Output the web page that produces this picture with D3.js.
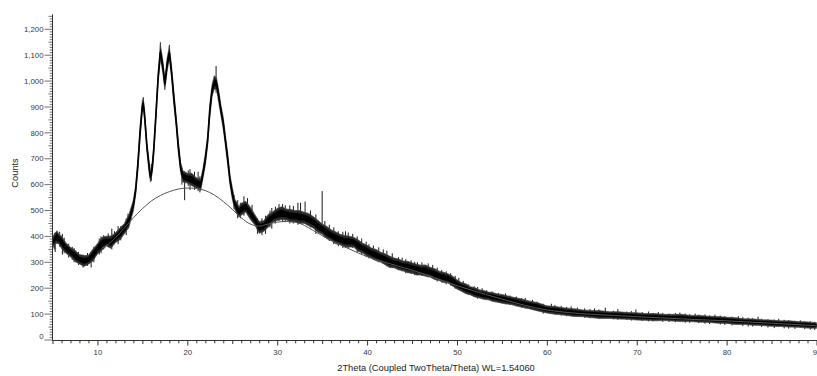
<!DOCTYPE html>
<html>
<head>
<meta charset="utf-8">
<script src="https://cdn.jsdelivr.net/npm/d3@7"></script>
<style>
  html, body { margin: 0; padding: 0; background: #fff; }
  svg { display: block; font-family: "Liberation Sans", Arial, sans-serif; }
</style>
</head>
<body>
<svg id="chart" width="817" height="376"></svg>
<script>
// ---- data ----
const twoTheta = [5.0,5.25,5.5,5.75,6.0,6.5,7.0,7.5,8.0,8.5,9.0,9.5,10.0,10.5,11.0,11.5,12.0,12.5,13.0,13.5,14.0,14.25,14.5,14.75,15.0,15.1,15.25,15.5,15.75,15.9,16.1,16.25,16.5,16.75,17.0,17.25,17.5,17.75,18.0,18.25,18.5,18.75,19.0,19.25,19.5,20.0,20.5,21.0,21.5,21.75,22.0,22.25,22.5,22.75,23.0,23.25,23.5,23.75,24.0,24.25,24.5,24.75,25.0,25.25,25.5,25.75,26.0,26.5,27.0,27.5,28.0,28.5,29.0,29.5,30.0,30.5,31.0,31.5,32.0,32.5,33.0,33.5,34.0,34.5,35.0,35.5,36.0,36.5,37.0,37.5,38.0,38.5,39.0,39.5,40.0,40.5,41.0,41.5,42.0,42.5,43.0,43.5,44.0,44.5,45.0,45.5,46.0,46.5,47.0,47.5,48.0,48.5,49.0,49.5,50.0,50.5,51.0,51.5,52.0,52.5,53.0,53.5,54.0,54.5,55.0,56.0,57.0,58.0,59.0,60.0,61.0,62.0,63.0,64.0,65.0,66.0,67.0,68.0,69.0,70.0,71.0,72.0,73.0,74.0,75.0,76.0,77.0,78.0,79.0,80.0,81.0,82.0,83.0,84.0,85.0,86.0,87.0,88.0,89.0,90.0];
const counts = [375,390,398,388,378,355,340,325,312,305,310,328,352,372,382,378,395,410,430,460,520,578,677,805,905,915,865,748,668,628,666,727,865,1013,1112,1063,988,1063,1110,1033,935,847,747,667,632,625,620,607,600,645,697,767,885,963,995,990,940,885,837,767,697,617,567,527,510,495,505,515,490,465,435,440,460,475,485,490,485,480,478,475,472,465,455,440,428,415,405,395,388,382,380,378,365,355,345,335,328,320,312,302,298,292,286,282,278,272,270,268,262,255,248,242,238,228,215,205,198,190,184,178,174,170,166,162,159,152,144,136,128,118,114,110,106,103,100,98,96,95,93,91,89,88,87,86,85,83,82,80,78,76,73,71,69,67,65,63,62,60,58,56];
const spread = [22,20,24,18,24,20,18,22,18,21,17,23,20,25,19,24,19,23,20,25,21,19,23,24,20,18,21,19,23,18,21,20,24,22,28,24,22,26,24,23,26,21,23,20,22,19,24,20,22,19,23,20,26,23,26,22,24,20,23,21,24,20,23,19,22,20,23,21,24,20,23,21,25,20,23,25,21,24,22,25,21,24,22,23,20,24,21,23,20,22,21,19,22,19,21,20,22,19,21,22,19,21,19,22,20,21,19,22,19,21,18,20,18,19,18,17,19,16,18,16,17,15,17,16,17,15,16,15,16,14,15,14,15,13,14,15,13,14,13,14,13,14,12,13,14,12,13,12,13,12,13,11,12,11,12,11,12,11,12,11];

// thin strands sticking out of the noise band (position, bottom, top)
const spikeX    = [5.2,5.3,5.8,6.1,6.3,6.8,7.2,7.4,7.9,8.4,8.9,9.3,9.6,10.2,10.4,10.7,11.2,11.6,11.9,12.3,12.6,13.2,13.4,15.1,16.0,17.0,18.0,19.4,19.7,20.1,20.3,20.8,21.2,21.4,23.2,25.2,25.6,25.9,26.3,26.7,27.2,27.8,28.3,28.7,29.2,29.4,29.8,30.2,30.6,30.9,31.4,31.8,32.3,32.6,33.1,33.7,34.3,35.0,35.3,35.8,36.3,36.8,37.3,37.6,37.9,38.4,38.9,39.4,39.9,40.2,40.7,41.3,41.8,42.2,42.8,43.5,43.9,44.3,44.9,45.3,45.6,46.1,46.8,47.3,47.8,48.3,48.8,49.3,49.8,50.2,50.7,51.3,51.9,52.3,52.8,53.3,53.9,54.6,55.4,55.9,56.6,57.2,57.6,58.4,58.9,59.6,60.5,60.9,61.6,62.2,62.7,63.4,64.2,64.8,65.3,65.8,66.5,67.4,67.9,68.6,68.9,69.4,69.9,70.6,71.3,71.8,72.4,72.9,73.6,74.3,74.8,75.4,75.9,76.5,76.9,77.6,78.1,78.7,79.3,79.8,80.6,81.3,81.8,82.4,82.9,83.5,83.9,84.6,85.3,85.8,86.4,86.9,87.6,88.2,88.7,89.3,89.8];
const spikeLow  = [350,340,360,330,335,318,310,300,290,280,286,280,300,330,335,350,360,350,372,370,385,405,430,885,615,1085,1085,600,540,595,580,580,575,570,955,505,470,470,480,485,462,410,405,410,435,430,450,460,455,455,450,450,445,450,450,435,410,420,395,382,370,362,355,355,352,355,340,330,320,315,310,300,295,285,278,270,265,258,255,250,250,248,242,240,226,222,215,210,198,195,185,175,166,160,158,155,150,145,138,135,130,125,122,118,112,102,102,98,95,92,94,90,86,84,88,82,86,80,78,82,77,75,80,74,72,72,76,70,70,69,72,67,66,70,65,63,62,67,60,58,56,62,54,52,52,58,50,48,46,52,45,44,43,48,42,40,39];
const spikeHigh = [412,415,418,410,395,372,360,355,340,330,336,340,360,392,400,405,412,430,420,440,440,470,488,938,680,1150,1140,665,650,655,660,650,650,632,1058,560,540,530,555,548,522,470,470,480,500,510,515,525,525,520,520,518,530,530,535,500,485,575,460,445,435,420,418,420,415,410,400,392,380,370,365,358,350,345,335,320,318,312,308,302,300,300,296,290,280,270,265,258,248,240,228,215,208,205,200,192,188,182,180,172,168,162,162,155,148,140,140,135,132,128,130,125,122,120,122,118,125,113,120,104,110,112,118,108,110,104,108,105,102,104,106,102,100,102,98,99,95,98,94,92,90,92,88,86,84,90,82,80,79,82,78,76,74,76,72,72,70];

// smooth amorphous fit curve
const fitX      = [10.5,11,12,13,14,15,16,17,18,19,20,21,22,23,24,25,26,27,28,29,30,31,32,33,34,35,36,38,40,42,45,50,55,60,70,80,90];
const fitCounts = [355,365,395,433,472,507,537,558,573,583,587,585,577,560,535,505,472,448,440,448,455,458,455,443,423,403,385,352,322,300,270,210,158,116,90,74,55];

const xMajorTicks = [10,20,30,40,50,60,70,80,90];
const yMajorTicks = [0,100,200,300,400,500,600,700,800,900,1000,1100,1200];

const xTitle = "2Theta (Coupled TwoTheta/Theta) WL=1.54060";
const yTitle = "Counts";

// ---- drawing ----
const svg = d3.select("#chart");
const x = d3.scaleLinear().domain([5, 90]).range([52.5, 816.5]);
const y = d3.scaleLinear().domain([0, 1200]).range([340, 29.3]);
const yTop = 1258;

const rows = twoTheta.map((t, i) => ({ t, c: counts[i], s: spread[i] }));

const plot = svg.append("g");

// strands (behind band, so only their tips show)
plot.selectAll("line.spike")
  .data(spikeX.map((t, i) => ({ t, lo: spikeLow[i], hi: spikeHigh[i] })))
  .join("line")
  .attr("class", "spike")
  .attr("x1", d => x(d.t)).attr("x2", d => x(d.t))
  .attr("y1", d => y(d.lo)).attr("y2", d => y(d.hi))
  .attr("stroke", "#1a1a1a")
  .attr("stroke-width", 1);

// outer fuzzy band
plot.append("path")
  .datum(rows)
  .attr("d", d3.area().x(d => x(d.t)).y0(d => y(d.c - d.s)).y1(d => y(d.c + d.s)))
  .attr("fill", "#2a2a2a")
  .attr("stroke", "#444")
  .attr("stroke-width", 0.7);

// dense core
plot.append("path")
  .datum(rows)
  .attr("d", d3.area().x(d => x(d.t)).y0(d => y(d.c - d.s * 0.55)).y1(d => y(d.c + d.s * 0.55)))
  .attr("fill", "#000");

// centre line (keeps steep flanks solid)
plot.append("path")
  .datum(rows)
  .attr("d", d3.line().x(d => x(d.t)).y(d => y(d.c)))
  .attr("fill", "none")
  .attr("stroke", "#000")
  .attr("stroke-width", 1.6);

// fit curve
plot.append("path")
  .datum(fitX.map((t, i) => ({ t, c: fitCounts[i] })))
  .attr("d", d3.line().curve(d3.curveMonotoneX).x(d => x(d.t)).y(d => y(d.c)))
  .attr("fill", "none")
  .attr("stroke", "#555")
  .attr("stroke-width", 1);

// ---- axes ----
const axisColor = "#333";
const labelColor = "#3a3a3a";

// X axis
const xAxisG = svg.append("g").attr("transform", "translate(0,340.5)");
xAxisG.append("line").attr("x1", x(5)).attr("x2", 817).attr("stroke", axisColor).attr("stroke-width", 1);
const xMinor = d3.range(5, 91, 1);
xAxisG.selectAll("line.xm").data(xMinor).join("line").attr("class", "xm")
  .attr("x1", d => x(d) + 0.5).attr("x2", d => x(d) + 0.5)
  .attr("y1", 0).attr("y2", d => (d % 10 === 0 ? 5 : (d % 5 === 0 ? 3.5 : 2.8)))
  .attr("stroke", axisColor).attr("stroke-width", 1);
xAxisG.selectAll("text").data(xMajorTicks).join("text")
  .attr("x", d => x(d) + 0.5).attr("y", 14.5)
  .attr("text-anchor", "middle")
  .attr("font-size", 7.8)
  .attr("fill", labelColor)
  .text(d => d);

// Y axis
const yAxisG = svg.append("g").attr("transform", "translate(52.5,0)");
yAxisG.append("line").attr("y1", y(yTop)).attr("y2", 340.5).attr("stroke", axisColor).attr("stroke-width", 1);
const yMinor = d3.range(0, yTop, 10);
yAxisG.selectAll("line.ym").data(yMinor).join("line").attr("class", "ym")
  .attr("x1", d => (d % 100 === 0 ? -8 : (d % 50 === 0 ? -4 : -2.8))).attr("x2", 0)
  .attr("y1", d => y(d)).attr("y2", d => y(d))
  .attr("stroke", axisColor).attr("stroke-width", 0.7);
const fmt = d3.format(",");
yAxisG.selectAll("text").data(yMajorTicks).join("text")
  .attr("x", -9).attr("y", d => y(d) + (d === 0 ? -3.5 : 0))
  .attr("dy", "0.35em")
  .attr("text-anchor", "end")
  .attr("font-size", 7.8)
  .attr("fill", labelColor)
  .text(d => fmt(d));

// titles
svg.append("text")
  .attr("x", 436).attr("y", 371)
  .attr("text-anchor", "middle")
  .attr("font-size", 9.3)
  .attr("fill", "#222")
  .text(xTitle);

svg.append("text")
  .attr("transform", "translate(18,173) rotate(-90)")
  .attr("text-anchor", "middle")
  .attr("font-size", 9.3)
  .attr("fill", "#222")
  .text(yTitle);
</script>
</body>
</html>
